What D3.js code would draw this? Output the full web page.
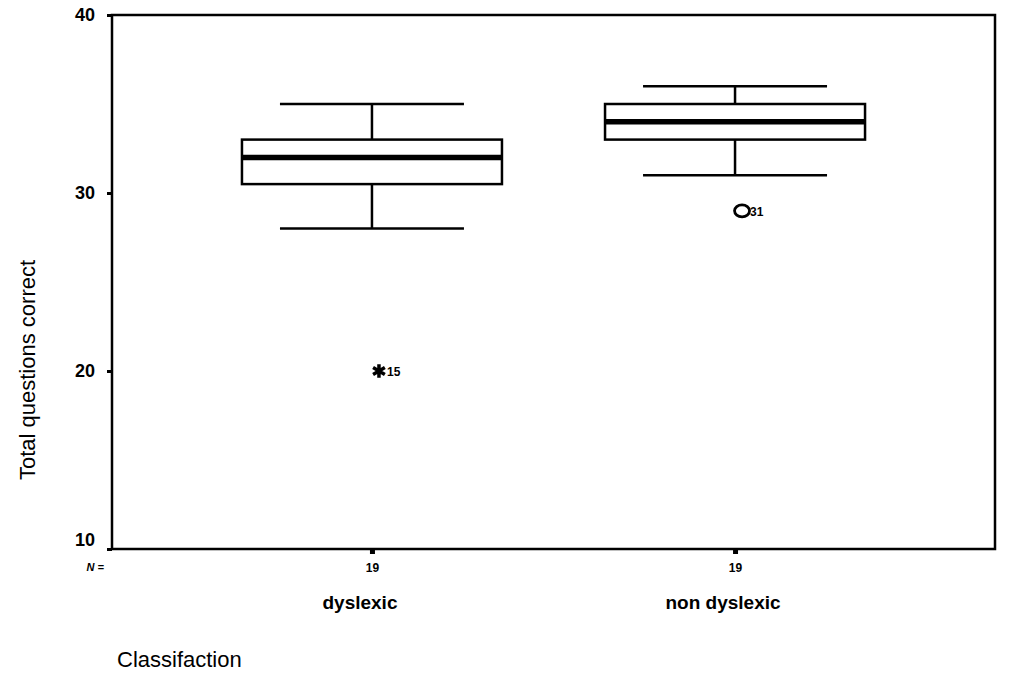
<!DOCTYPE html>
<html>
<head>
<meta charset="utf-8">
<script src="https://cdn.jsdelivr.net/npm/d3@7"></script>
<style>
  html, body { margin: 0; padding: 0; background: #fff; }
  svg { display: block; }
  text { font-family: "Liberation Sans", Arial, sans-serif; fill: #000; }
</style>
</head>
<body>
<svg id="chart" width="1016" height="677"></svg>
<script>
// Groups and their box-plot summaries
const categories = ["dyslexic", "non dyslexic"];
const counts = [19, 19];
const whiskerLow = [28, 31];
const q1 = [30.5, 33];
const medians = [32, 34];
const q3 = [33, 35];
const whiskerHigh = [35, 36];
// Flagged cases: extreme (star) and outlier (circle)
const outlierGroup = ["dyslexic", "non dyslexic"];
const outlierValue = [20, 29];
const outlierCase = ["15", "31"];
const outlierKind = ["extreme", "outlier"];
const yTicks = [10, 20, 30, 40];

const svg = d3.select("#chart");
const margin = { left: 112, right: 21, top: 15, bottom: 128 };
const W = 1016, H = 677;

const x = d3.scalePoint()
  .domain(categories)
  .range([margin.left, W - margin.right])
  .padding(0.716);

const y = d3.scaleLinear()
  .domain([10, 40])
  .range([H - margin.bottom, margin.top]);

const boxW = 260, capW = 184;

// Plot frame
svg.append("rect")
  .attr("x", margin.left).attr("y", margin.top)
  .attr("width", W - margin.left - margin.right)
  .attr("height", H - margin.top - margin.bottom)
  .attr("fill", "none").attr("stroke", "#000").attr("stroke-width", 2.5);

// Y axis
const yAxis = svg.append("g")
  .attr("transform", `translate(${margin.left},0)`)
  .call(d3.axisLeft(y).tickValues(yTicks).tickFormat(d3.format("d")).tickSize(5).tickPadding(12));
yAxis.select(".domain").remove();
yAxis.selectAll(".tick line").attr("stroke", "#000").attr("stroke-width", 3);
yAxis.selectAll(".tick text")
  .style("font-size", "18px").style("font-weight", "bold")
  .attr("fill", "#000")
  .attr("dy", d => d === 10 ? "-0.2em" : "0.32em");

// X axis ticks with counts
const xAxis = svg.append("g")
  .attr("transform", `translate(0,${H - margin.bottom})`)
  .call(d3.axisBottom(x).tickSize(5).tickPadding(9)
    .tickFormat(d => counts[categories.indexOf(d)]));
xAxis.select(".domain").remove();
xAxis.selectAll(".tick line").attr("stroke", "#000").attr("stroke-width", 5);
xAxis.selectAll(".tick text")
  .style("font-size", "12px").style("font-weight", "bold").attr("fill", "#000");

svg.append("text")
  .attr("x", 104).attr("y", H - margin.bottom + 22)
  .attr("text-anchor", "end")
  .style("font-size", "11px").style("font-weight", "bold").style("font-style", "italic")
  .text("N =");

// Category labels
svg.append("g").selectAll("text")
  .data(categories).join("text")
  .attr("x", d => x(d) - 12)
  .attr("y", 609)
  .attr("text-anchor", "middle")
  .style("font-size", "19px")
  .style("font-weight", "bold")
  .text(d => d);

// Boxes
const g = svg.append("g").selectAll("g")
  .data(categories).join("g");

g.append("line")
  .attr("x1", d => x(d)).attr("x2", d => x(d))
  .attr("y1", (d, i) => y(whiskerHigh[i])).attr("y2", (d, i) => y(q3[i]))
  .attr("stroke", "#000").attr("stroke-width", 2.5);
g.append("line")
  .attr("x1", d => x(d)).attr("x2", d => x(d))
  .attr("y1", (d, i) => y(q1[i])).attr("y2", (d, i) => y(whiskerLow[i]))
  .attr("stroke", "#000").attr("stroke-width", 2.5);
g.append("line")
  .attr("x1", d => x(d) - capW / 2).attr("x2", d => x(d) + capW / 2)
  .attr("y1", (d, i) => y(whiskerHigh[i])).attr("y2", (d, i) => y(whiskerHigh[i]))
  .attr("stroke", "#000").attr("stroke-width", 2.5);
g.append("line")
  .attr("x1", d => x(d) - capW / 2).attr("x2", d => x(d) + capW / 2)
  .attr("y1", (d, i) => y(whiskerLow[i])).attr("y2", (d, i) => y(whiskerLow[i]))
  .attr("stroke", "#000").attr("stroke-width", 2.5);
g.append("rect")
  .attr("x", d => x(d) - boxW / 2)
  .attr("width", boxW)
  .attr("y", (d, i) => y(q3[i]))
  .attr("height", (d, i) => y(q1[i]) - y(q3[i]))
  .attr("fill", "#fff").attr("stroke", "#000").attr("stroke-width", 2.5);
g.append("line")
  .attr("x1", d => x(d) - boxW / 2).attr("x2", d => x(d) + boxW / 2)
  .attr("y1", (d, i) => y(medians[i])).attr("y2", (d, i) => y(medians[i]))
  .attr("stroke", "#000").attr("stroke-width", 5.5);

// Flagged cases
const out = svg.append("g").selectAll("g")
  .data(outlierValue).join("g")
  .attr("transform", (v, i) => `translate(${x(outlierGroup[i]) + 7},${y(v)})`);

out.each(function (v, i) {
  const s = d3.select(this);
  if (outlierKind[i] === "extreme") {
    s.append("path")
      .attr("d", d3.symbol().type(d3.symbolAsterisk).size(130))
      .attr("fill", "none").attr("stroke", "#000").attr("stroke-width", 3.5);
  } else {
    s.append("ellipse")
      .attr("rx", 7.5).attr("ry", 6)
      .attr("fill", "#fff").attr("stroke", "#000").attr("stroke-width", 2.8);
  }
  s.append("text")
    .attr("x", 8).attr("y", 5)
    .style("font-size", "12px").style("font-weight", "bold")
    .text(outlierCase[i]);
});

// Axis titles
svg.append("text")
  .attr("transform", "translate(35,370) rotate(-90)")
  .attr("text-anchor", "middle")
  .style("font-size", "22px")
  .text("Total questions correct");

svg.append("text")
  .attr("x", 117).attr("y", 667)
  .style("font-size", "22px")
  .text("Classifaction");
</script>
</body>
</html>
